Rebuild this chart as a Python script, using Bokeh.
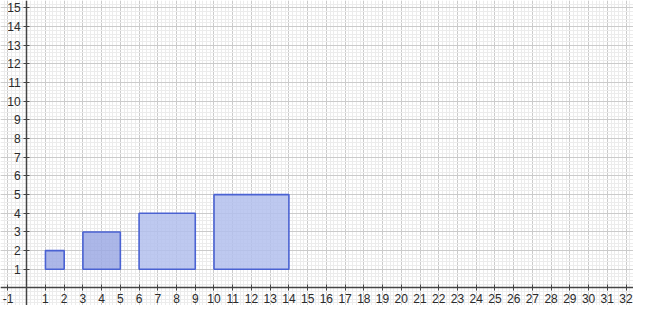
from bokeh.plotting import figure
from bokeh.models import LinearAxis, SingleIntervalTicker, Range1d, ColumnDataSource, Grid
from bokeh.core.properties import value
from bokeh.embed import file_html
from bokeh.resources import INLINE

# Data: squares of side n starting at x positions, bottom at y=1
sides = [1, 2, 3, 4]
lefts = [1, 3, 6, 10]
bottom_y = [1, 1, 1, 1]
fills = ["#9eaae4", "#9eaae4", "#b3bfed", "#b3bfed"]

# Tick labels
x_tick_values = [v for v in range(-1, 33) if v != 0]
x_tick_labels = [str(v) for v in x_tick_values]
y_tick_values = [v for v in range(1, 16)]
y_tick_labels = [str(v) for v in y_tick_values]

src = ColumnDataSource(dict(
    left=lefts,
    right=[l + s for l, s in zip(lefts, sides)],
    bottom=bottom_y,
    top=[b + s for b, s in zip(bottom_y, sides)],
    fill=fills,
))

p = figure(width=633, height=305, output_backend="svg", toolbar_location=None,
           x_range=Range1d(-1.4, 32.4), y_range=Range1d(-0.94, 15.4),
           x_axis_type=None, y_axis_type=None, min_border=0)
p.outline_line_color = None
p.background_fill_color = "white"

tx = SingleIntervalTicker(interval=1, num_minor_ticks=5)
ty = SingleIntervalTicker(interval=1, num_minor_ticks=5)

for ax, loc in ((LinearAxis(ticker=tx), "below"), (LinearAxis(ticker=ty), "left")):
    ax.fixed_location = 0
    ax.axis_line_color = "#444444"
    ax.axis_line_width = 1.5
    ax.major_tick_line_color = "#444444"
    ax.major_tick_in = 3
    ax.major_tick_out = 3
    ax.minor_tick_line_color = None
    ax.major_label_text_color = None
    ax.major_label_text_font_size = "1px"
    p.add_layout(ax, loc)

for dim, t in ((0, tx), (1, ty)):
    g = Grid(dimension=dim, ticker=t,
             grid_line_color="#cbcbcb", grid_line_width=1,
             minor_grid_line_color="#ececec", minor_grid_line_width=1)
    g.level = "underlay"
    p.add_layout(g)

p.quad(left="left", right="right", bottom="bottom", top="top", source=src,
       fill_color="fill", fill_alpha=0.85, line_color="#4a62d2", line_width=1.6)

# tick labels positioned at the axes through data coordinates
p.text(x=x_tick_values, y=[0] * len(x_tick_values), text=x_tick_labels,
       text_align="center", text_baseline="top", y_offset=6,
       text_font=value("Liberation Sans"), text_font_size="12px", text_color="#2a2a2a")
p.text(x=[0] * len(y_tick_values), y=y_tick_values, text=y_tick_labels,
       text_align="right", text_baseline="middle", x_offset=-6,
       text_font=value("Liberation Sans"), text_font_size="12px", text_color="#2a2a2a")

open("out.html", "w").write(file_html(p, INLINE))
